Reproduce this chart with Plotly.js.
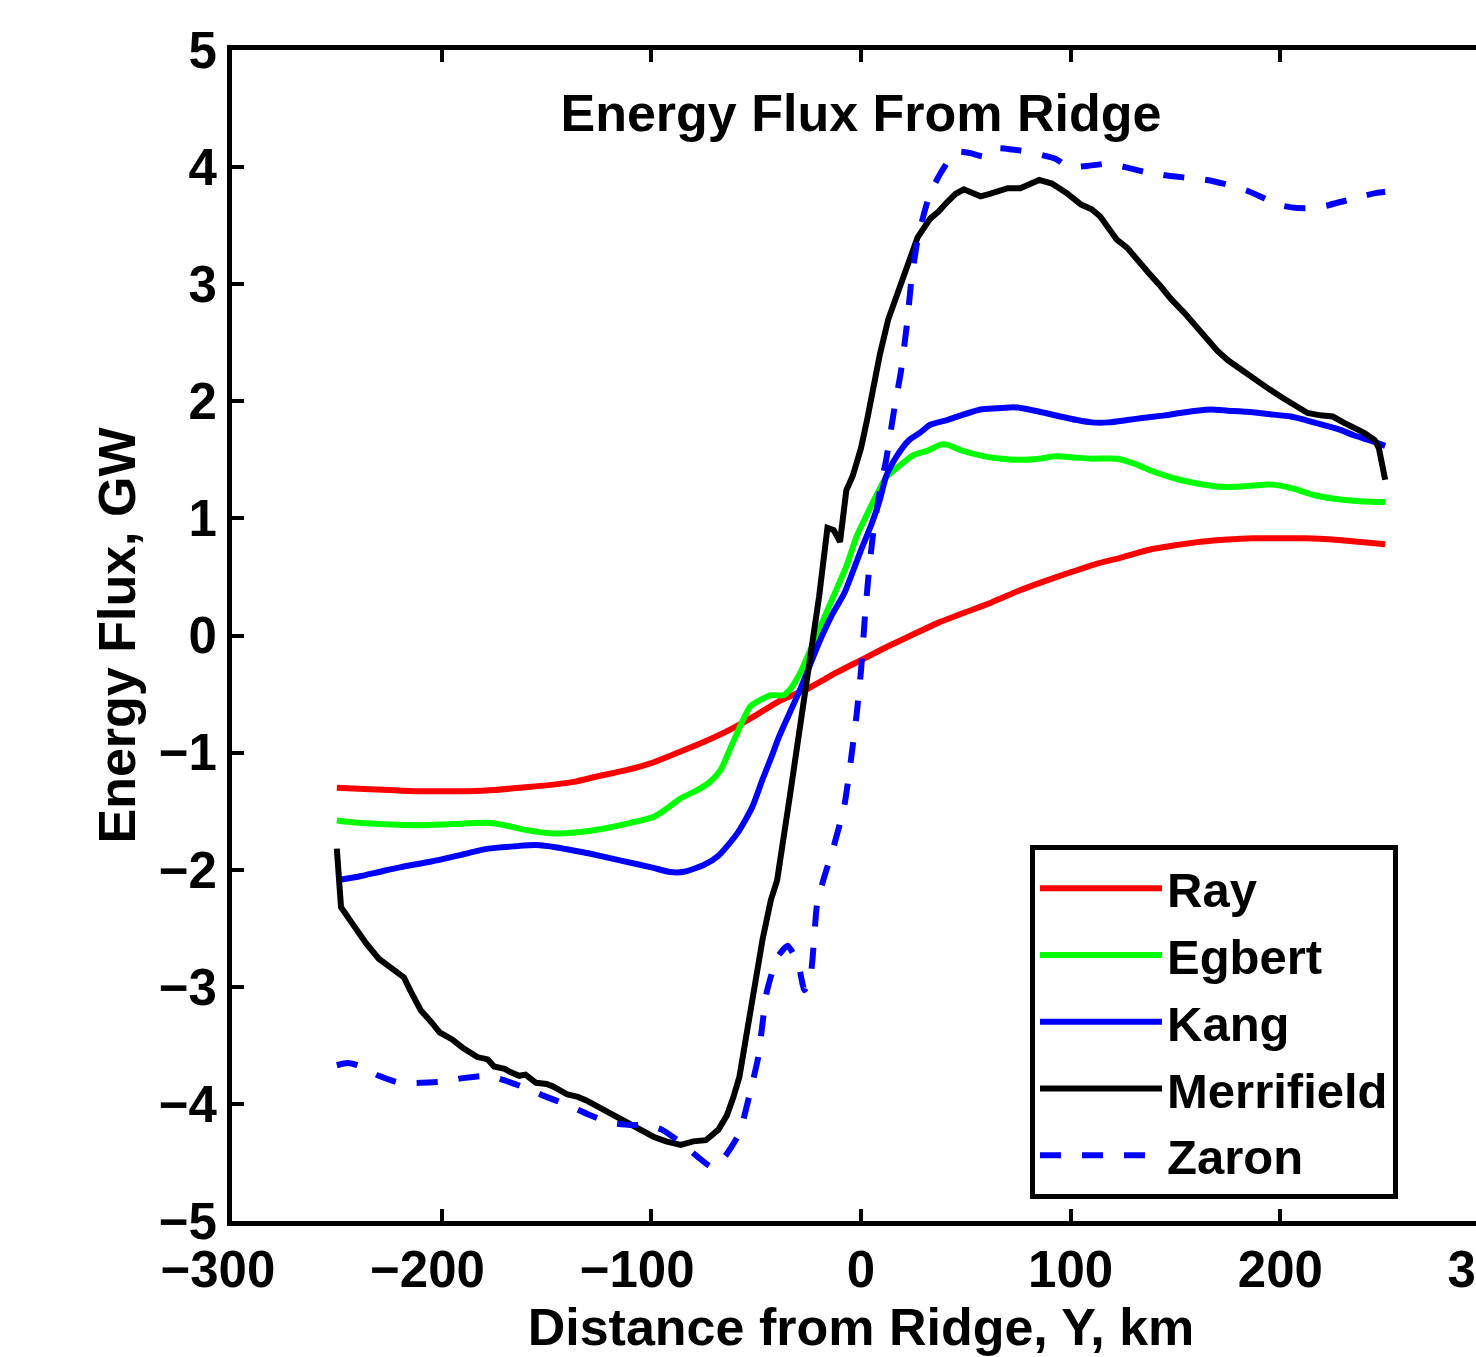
<!DOCTYPE html>
<html>
<head>
<meta charset="utf-8">
<script src="https://cdn.plot.ly/plotly-3.0.1.min.js"></script>
<style>
html,body{margin:0;padding:0;background:#fff;overflow:hidden;}
#chart{width:1500px;height:1357px;}
</style>
</head>
<body>
<div id="chart"></div>
<script>
// ---- Data ----
const seriesNames = ["Ray", "Egbert", "Kang", "Merrifield", "Zaron"];

const rayX = [-250,-237,-225,-212,-200,-187,-175,-163,-150,-137,-125,-112,-100,-86,-75,-62,-50,-39,-25,-12,0,12,25,37,50,62,75,87,100,112,125,137,150,162,175,187,200,212,225,237,250];
const rayY = [-1.30,-1.31,-1.32,-1.33,-1.33,-1.33,-1.32,-1.30,-1.28,-1.25,-1.20,-1.15,-1.09,-0.99,-0.91,-0.80,-0.68,-0.56,-0.45,-0.32,-0.21,-0.10,0.01,0.11,0.20,0.28,0.38,0.46,0.54,0.61,0.67,0.73,0.77,0.80,0.82,0.83,0.83,0.83,0.82,0.80,0.78];

const egbertX = [-250,-240,-230,-210,-195,-178,-170,-160,-147,-135,-123,-110,-99,-92,-86,-79,-72,-67,-62,-57,-53,-48,-43,-37,-33,-29,-25,-20,-14,-7,-2,3,8,12,17,25,32,38,41,48,59,67,76,85,93,102,110,122,130,141,152,163,172,179,187,194,200,207,216,225,235,246,250];
const egbertY = [-1.58,-1.60,-1.61,-1.62,-1.61,-1.60,-1.62,-1.66,-1.69,-1.68,-1.65,-1.60,-1.55,-1.47,-1.39,-1.33,-1.25,-1.15,-0.95,-0.75,-0.61,-0.55,-0.51,-0.51,-0.44,-0.32,-0.16,0.05,0.30,0.59,0.85,1.04,1.22,1.35,1.43,1.54,1.58,1.63,1.63,1.58,1.53,1.51,1.50,1.51,1.53,1.52,1.51,1.51,1.47,1.39,1.33,1.29,1.27,1.27,1.28,1.29,1.28,1.25,1.20,1.17,1.15,1.14,1.14];

const kangX = [-250,-240,-230,-220,-205,-190,-178,-165,-155,-145,-139,-130,-115,-100,-91,-85,-75,-68,-59,-52,-47,-43,-39,-34,-29,-20,-14,-8,0,5,9,12,17,23,28,33,41,46,57,65,73,80,88,95,103,110,118,127,135,145,152,160,167,175,184,195,205,212,220,228,235,242,250];
const kangY = [-2.09,-2.06,-2.02,-1.98,-1.93,-1.87,-1.82,-1.80,-1.79,-1.81,-1.83,-1.86,-1.92,-1.98,-2.02,-2.02,-1.96,-1.88,-1.69,-1.47,-1.23,-1.05,-0.86,-0.66,-0.46,-0.06,0.17,0.36,0.73,0.95,1.16,1.36,1.53,1.67,1.73,1.80,1.84,1.87,1.93,1.94,1.95,1.93,1.90,1.87,1.84,1.82,1.82,1.84,1.86,1.88,1.90,1.92,1.93,1.92,1.91,1.89,1.87,1.84,1.80,1.76,1.71,1.67,1.62];

const merrifieldX = [-250,-248,-243,-236,-230,-223,-218,-215,-210,-205,-201,-195,-190,-183,-178,-175,-170,-167,-163,-160,-155,-150,-147,-140,-135,-131,-125,-120,-115,-110,-105,-99,-93,-86,-80,-74,-68,-64,-61,-58,-55,-51,-47,-43,-40,-34,-28,-23,-20,-16,-13,-10,-7,-4,0,3,6,9,13,20,27,33,37,41,45,49,53,57,61,65,70,76,80,85,91,98,105,110,114,118,122,127,131,137,143,148,154,160,165,170,175,182,188,195,201,207,213,219,225,230,235,240,245,247,250];
const merrifieldY = [-1.82,-2.32,-2.45,-2.63,-2.76,-2.86,-2.92,-3.03,-3.20,-3.30,-3.39,-3.45,-3.52,-3.60,-3.62,-3.68,-3.70,-3.73,-3.76,-3.75,-3.82,-3.83,-3.85,-3.92,-3.94,-3.97,-4.03,-4.08,-4.12,-4.18,-4.22,-4.28,-4.32,-4.35,-4.32,-4.31,-4.22,-4.10,-3.95,-3.77,-3.45,-3.00,-2.60,-2.26,-2.09,-1.38,-0.66,-0.10,0.33,0.92,0.90,0.80,1.24,1.36,1.60,1.85,2.16,2.40,2.70,3.06,3.40,3.56,3.62,3.70,3.77,3.81,3.78,3.75,3.77,3.79,3.82,3.82,3.85,3.89,3.86,3.78,3.68,3.64,3.58,3.48,3.38,3.31,3.22,3.10,2.98,2.87,2.76,2.63,2.52,2.43,2.35,2.26,2.18,2.10,2.03,1.96,1.90,1.88,1.87,1.82,1.78,1.73,1.67,1.60,1.33];

const zaronX = [-250,-245,-240,-230,-220,-210,-199,-190,-178,-170,-159,-150,-140,-130,-120,-110,-102,-95,-86,-78,-71,-65,-58,-53,-49,-45,-40,-35,-30,-27,-24,-21,-18,-13,-8,-5,-2,0,2,4,6,9,12,16,19,22,24,27,30,33,38,42,46,52,59,65,72,80,87,93,99,108,118,126,135,145,155,165,175,184,194,201,208,215,222,228,235,241,246,250];
const zaronY = [-3.67,-3.65,-3.67,-3.76,-3.82,-3.82,-3.81,-3.78,-3.76,-3.80,-3.87,-3.94,-4.01,-4.09,-4.16,-4.18,-4.18,-4.22,-4.33,-4.45,-4.54,-4.45,-4.25,-3.91,-3.60,-3.05,-2.75,-2.65,-2.80,-3.03,-2.90,-2.30,-2.09,-1.80,-1.46,-1.09,-0.66,-0.30,0.19,0.59,0.90,1.24,1.50,1.95,2.25,2.67,3.03,3.38,3.60,3.78,3.95,4.06,4.13,4.12,4.09,4.16,4.15,4.13,4.10,4.07,4.00,4.01,4.03,4.00,3.96,3.93,3.91,3.89,3.85,3.80,3.72,3.67,3.65,3.65,3.67,3.70,3.73,3.76,3.78,3.79];

const xTicks = [-300,-200,-100,0,100,200,300];
// negative labels carry a trailing figure space so that, as in the original, they sit a little left of their tick
const xTickLabels = ["\u2212300\u2007","\u2212200\u2007","\u2212100\u2007","0","100","200","300"];
const yTicks = [-5,-4,-3,-2,-1,0,1,2,3,4,5];

// ---- Traces ----
const FONT = "Liberation Sans, Arial, Helvetica, sans-serif";
const LW = 6;
const traces = [
  {x: rayX, y: rayY, name: seriesNames[0], type: "scatter", mode: "lines",
   line: {color: "#ff0000", width: LW, shape: "spline", smoothing: 0.6}},
  {x: egbertX, y: egbertY, name: seriesNames[1], type: "scatter", mode: "lines",
   line: {color: "#00ff00", width: LW, shape: "spline", smoothing: 0.6}},
  {x: kangX, y: kangY, name: seriesNames[2], type: "scatter", mode: "lines",
   line: {color: "#0000ff", width: LW, shape: "spline", smoothing: 0.6}},
  {x: merrifieldX, y: merrifieldY, name: seriesNames[3], type: "scatter", mode: "lines",
   line: {color: "#000000", width: LW}},
  {x: zaronX, y: zaronY, name: seriesNames[4], type: "scatter", mode: "lines",
   line: {color: "#0000ff", width: LW, dash: "21px,21px", shape: "spline", smoothing: 0.5}}
];

const axisCommon = {
  showline: true, linewidth: 5, linecolor: "#000", mirror: "ticks",
  ticks: "inside", ticklen: 12, tickwidth: 4, tickcolor: "#000",
  showgrid: false, zeroline: false, ticklabeloverflow: "allow",
  tickfont: {family: FONT, size: 51, color: "#000", weight: "bold"}
};

const layout = {
  width: 1500, height: 1357,
  margin: {l: 232, r: 10, t: 50, b: 136, pad: 0},
  paper_bgcolor: "#fff", plot_bgcolor: "#fff",
  font: {family: FONT, color: "#000"},
  title: {
    text: "Energy Flux From Ridge",
    font: {family: FONT, size: 52, color: "#000", weight: "bold"},
    xref: "paper", x: 0.5, xanchor: "center",
    yref: "container", y: 1 - 113/1357, yanchor: "middle"
  },
  xaxis: Object.assign({}, axisCommon, {
    range: [-300, 300], tickmode: "array", tickvals: xTicks, ticktext: xTickLabels,
    title: {text: "Distance from Ridge, Y, km", standoff: 3,
            font: {family: FONT, size: 52, color: "#000", weight: "bold"}}
  }),
  yaxis: Object.assign({}, axisCommon, {
    range: [-5, 5], tickmode: "array", tickvals: yTicks,
    title: {text: "Energy Flux, GW", standoff: 8,
            font: {family: FONT, size: 52, color: "#000", weight: "bold"}}
  }),
  showlegend: true,
  legend: {
    x: (1030 - 232) / 1258, y: (1221 - 1022) / 1171,
    xanchor: "left", yanchor: "middle",
    bgcolor: "#fff", bordercolor: "#000", borderwidth: 5,
    itemwidth: 122,
    font: {family: FONT, size: 49, color: "#000", weight: "bold"}
  }
};

Plotly.newPlot("chart", traces, layout, {displayModeBar: false, staticPlot: true});
</script>
</body>
</html>
